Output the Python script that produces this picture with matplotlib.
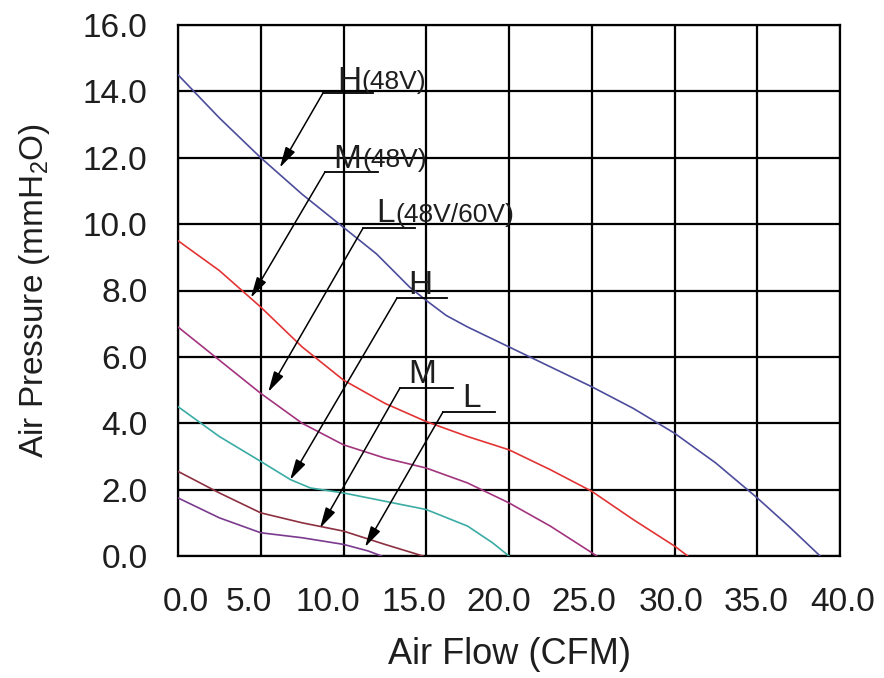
import numpy as np
import matplotlib.pyplot as plt
import matplotlib.transforms as mtransforms

plt.rcParams['font.family'] = ['Liberation Sans', 'DejaVu Sans']

# curves (x = CFM, y = mmH2O)
h48_x = [0, 2.5, 5, 7.5, 10, 12, 14, 15, 16.2, 17.5, 20, 22.5, 25, 27.5, 30, 32.5, 35, 37, 38.8]
h48_y = [14.5, 13.2, 12.0, 10.9, 9.9, 9.1, 8.1, 7.7, 7.25, 6.9, 6.3, 5.7, 5.1, 4.45, 3.7, 2.8, 1.75, 0.85, 0.0]

m48_x = [0, 2.5, 5, 7.5, 10, 12.5, 15, 17.5, 20, 22.5, 25, 27.5, 30, 30.8]
m48_y = [9.5, 8.6, 7.5, 6.3, 5.3, 4.6, 4.05, 3.6, 3.2, 2.6, 1.95, 1.1, 0.3, 0.0]

l48_x = [0, 2.5, 5, 7.5, 10, 12.5, 15, 17.5, 20, 22.5, 25, 25.3]
l48_y = [6.9, 5.9, 4.9, 4.0, 3.35, 2.95, 2.65, 2.2, 1.6, 0.9, 0.1, 0.0]

h_x = [0, 2.5, 5, 6.8, 8, 10, 12.5, 15, 17.5, 19, 20]
h_y = [4.5, 3.6, 2.85, 2.3, 2.05, 1.9, 1.65, 1.4, 0.9, 0.4, 0.0]

m_x = [0, 2.5, 5, 7.5, 10, 12.5, 14.8]
m_y = [2.55, 1.9, 1.3, 1.0, 0.75, 0.35, 0.0]

l_x = [0, 2.5, 5, 7.5, 10, 11.5, 12.3]
l_y = [1.75, 1.15, 0.7, 0.55, 0.35, 0.15, 0.0]

xticks = [0, 5, 10, 15, 20, 25, 30, 35, 40]
yticks = [0, 2, 4, 6, 8, 10, 12, 14, 16]

curves = [
    (h48_x, h48_y, '#4c4c9c'),
    (m48_x, m48_y, '#e23434'),
    (l48_x, l48_y, '#a2347e'),
    (h_x, h_y, '#3aaca4'),
    (m_x, m_y, '#8c3040'),
    (l_x, l_y, '#7a3a8e'),
]

# label, suffix, text pos, underline (x0, x1, y), arrow tip
labels = [
    ('H', '(48V)', (9.6, 14.05), (8.76, 11.8, 13.95), (6.15, 11.7)),
    ('M', '(48V)', (9.4, 11.7), (8.88, 12.1, 11.57), (4.4, 7.78)),
    ('L', '(48V/60V)', (12.0, 10.05), (11.18, 14.3, 9.88), (5.45, 4.94)),
    ('H', '', (13.9, 7.9), (13.23, 16.25, 7.77), (6.77, 2.29)),
    ('M', '', (13.9, 5.2), (13.41, 16.6, 5.06), (8.58, 0.84)),
    ('L', '', (17.15, 4.5), (16.01, 19.15, 4.34), (11.3, 0.27)),
]

fig = plt.figure(figsize=(8.84, 6.78), dpi=100)
ax = fig.add_axes([178 / 884, 122 / 678, 662 / 884, 531 / 678])

for xs, ys, c in curves:
    ax.plot(xs, ys, color=c, lw=1.2, zorder=3)

ax.set_xlim(0, 40)
ax.set_ylim(0, 16)
ax.set_xticks(xticks)
ax.set_yticks(yticks)
ax.set_xticklabels(['%.1f' % v for v in xticks])
ax.set_yticklabels(['%.1f' % v for v in yticks])
ax.grid(True, color='black', lw=1.6)
ax.set_axisbelow(True)
for s in ax.spines.values():
    s.set_linewidth(1.6)
ax.tick_params(length=0, labelsize=24, colors='#1e1e1e')
ax.tick_params(axis='x', pad=22)
ax.tick_params(axis='y', pad=22)

# the x labels in the source sit as one spaced string, so nudge them
shift_px = [8, -12, -16, -12, -10, -8, -3, -1, 3]
for lbl, dx in zip(ax.get_xticklabels(), shift_px):
    off = mtransforms.ScaledTranslation(dx / 100, 0, fig.dpi_scale_trans)
    lbl.set_transform(lbl.get_transform() + off)

ax.set_xlabel('Air Flow (CFM)', fontsize=26, color='#1e1e1e', labelpad=14)
ax.set_ylabel(r'Air Pressure (mmH$_\mathregular{2}$O)', fontsize=24,
              color='#1e1e1e', labelpad=22)

for main, suffix, tpos, (ux0, ux1, uy), tip in labels:
    t = ax.text(tpos[0], tpos[1], main, fontsize=24, color='#1e1e1e',
                ha='left', va='baseline', zorder=5)
    if suffix:
        ax.annotate(suffix, xy=(1, 0), xycoords=t, xytext=(0.5, 2),
                    textcoords='offset points', fontsize=19,
                    color='#1e1e1e', ha='left', va='bottom', zorder=5)
    ax.plot([ux0, ux1], [uy, uy], color='black', lw=1.3, zorder=4)
    ax.annotate('', xy=tip, xytext=(ux0, uy),
                arrowprops=dict(arrowstyle='-|>,head_length=0.7,head_width=0.18',
                                mutation_scale=18, color='black', lw=1.1,
                                shrinkA=0, shrinkB=0), zorder=4)

fig.savefig('out.png', dpi=100)
